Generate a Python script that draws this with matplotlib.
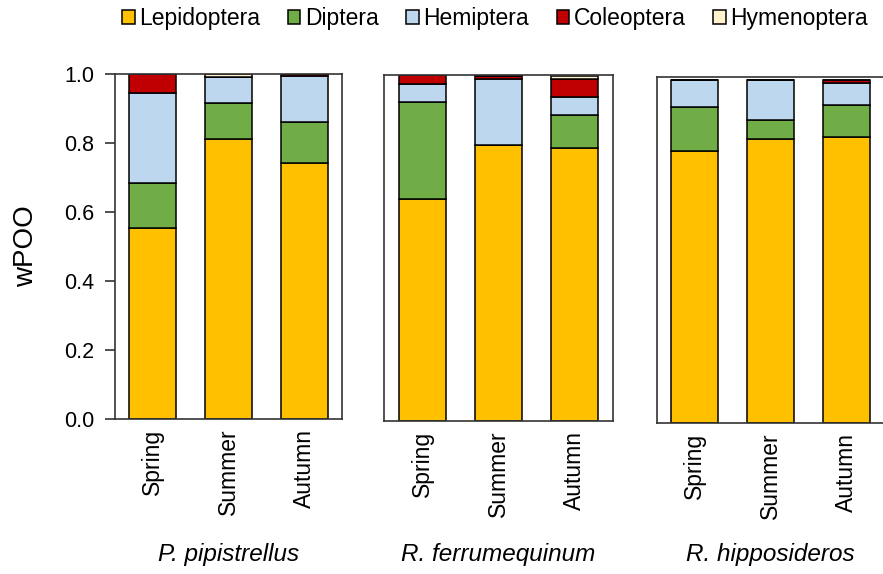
import matplotlib.pyplot as plt
from matplotlib.patches import Patch

plt.rcParams['font.family'] = ['Liberation Sans', 'DejaVu Sans']

seasons = ['Spring', 'Summer', 'Autumn']
species = ['P. pipistrellus', 'R. ferrumequinum', 'R. hipposideros']
orders = ['Lepidoptera', 'Diptera', 'Hemiptera', 'Coleoptera', 'Hymenoptera']
colors = ['#FFC000', '#70AD47', '#BDD7EE', '#C00000', '#FFF2CC']

# wPOO per order, rows = seasons (Spring, Summer, Autumn)
pipistrellus = {
    'Lepidoptera': [0.555, 0.812, 0.742],
    'Diptera': [0.130, 0.104, 0.119],
    'Hemiptera': [0.260, 0.074, 0.134],
    'Coleoptera': [0.055, 0.002, 0.005],
    'Hymenoptera': [0.000, 0.008, 0.000],
}
ferrumequinum = {
    'Lepidoptera': [0.642, 0.797, 0.788],
    'Diptera': [0.280, 0.000, 0.096],
    'Hemiptera': [0.052, 0.192, 0.052],
    'Coleoptera': [0.026, 0.008, 0.052],
    'Hymenoptera': [0.000, 0.003, 0.010],
}
hipposideros = {
    'Lepidoptera': [0.787, 0.822, 0.828],
    'Diptera': [0.126, 0.055, 0.092],
    'Hemiptera': [0.078, 0.115, 0.064],
    'Coleoptera': [0.000, 0.000, 0.007],
    'Hymenoptera': [0.000, 0.000, 0.000],
}
panels = [pipistrellus, ferrumequinum, hipposideros]

W, H = 883, 574
fig = plt.figure(figsize=(W / 100, H / 100), dpi=100)

# pixel boxes: left, right, top, bottom
boxes = [(115, 342, 74, 419), (384, 613, 75, 421), (657, 884, 77, 423)]

for i, (data, box) in enumerate(zip(panels, boxes)):
    l, r, t, b = box
    ax = fig.add_axes([l / W, 1 - b / H, (r - l) / W, (b - t) / H])
    x = range(len(seasons))
    bottom = [0.0] * len(seasons)
    for name, c in zip(orders, colors):
        vals = data[name]
        ax.bar(x, vals, 0.62, bottom=bottom, color=c, edgecolor='black', linewidth=1.1)
        bottom = [a + v for a, v in zip(bottom, vals)]
    ax.set_xlim(-0.5, 2.5)
    ax.set_ylim(0, 1)
    ax.set_xticks(list(x))
    ax.set_xticklabels(seasons, rotation=90, fontsize=16.5)
    ax.tick_params(axis='x', length=0, pad=7)
    for s in ax.spines.values():
        s.set_color('#333333')
        s.set_linewidth(1.2)
    if i == 0:
        ax.set_yticks([0, 0.2, 0.4, 0.6, 0.8, 1.0])
        ax.set_yticklabels(['0.0', '0.2', '0.4', '0.6', '0.8', '1.0'], fontsize=15.5)
        ax.tick_params(axis='y', length=7, width=1.2, color='#333333', pad=8)
        ax.set_ylabel('wPOO', fontsize=20, labelpad=18)
    else:
        ax.set_yticks([])
    fig.text((l + r) / 2 / W, 1 - 555 / H, species[i], style='italic',
             fontsize=17.5, ha='center', va='center')

handles = [Patch(facecolor=c, edgecolor='black', linewidth=1.1) for c in colors]
fig.legend(handles, orders, loc='center', bbox_to_anchor=(495 / W, 1 - 19 / H),
           ncol=5, frameon=False, fontsize=16.5, handlelength=0.55, handleheight=0.55,
           handletextpad=0.2, columnspacing=1.2)

fig.savefig('out.png', dpi=100)
